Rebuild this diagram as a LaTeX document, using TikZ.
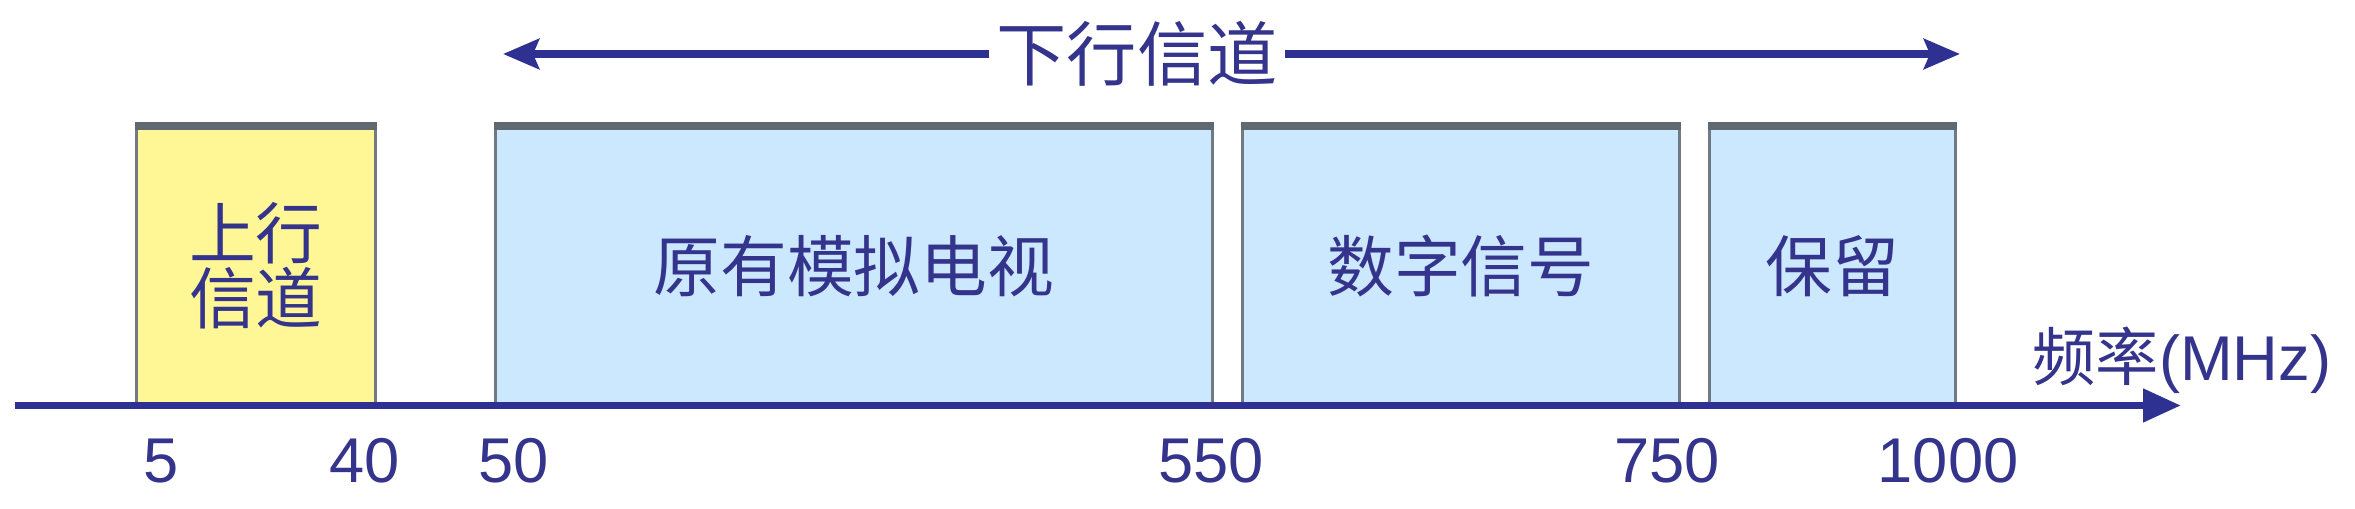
\documentclass[tikz,border=0pt]{standalone}
\usepackage{fontspec}
\setmainfont{Liberation Sans}
\newfontfamily\cjk{Noto Sans CJK SC}
\usetikzlibrary{positioning}
\usetikzlibrary{arrows.meta}
\definecolor{navy}{RGB}{46,49,146}
\definecolor{textblue}{RGB}{52,52,140}
\definecolor{bandyellow}{RGB}{255,246,150}
\definecolor{bandblue}{RGB}{204,232,255}
\definecolor{edgegray}{RGB}{112,122,132}
\definecolor{topgray}{RGB}{96,104,112}

\begin{document}
\begin{tikzpicture}[
  band/.style = {draw=edgegray, line width=0.8pt, anchor=south west, minimum height=2.765cm, inner sep=0pt, text=textblue, align=center, font=\cjk\fontsize{19}{24}\selectfont},
  topedge/.style = {topgray, line width=2.2pt},
  tick/.style = {text=textblue, font=\fontsize{18}{20}\selectfont},
  axisline/.style = {navy, line width=2.2pt, -{Triangle[length=0.38cm, width=0.32cm]}},
  rangeline/.style = {navy, line width=2.4pt, -{Stealth[length=0.36cm, width=0.3cm, inset=0.06cm]}}
]

\useasboundingbox (0, 0) rectangle (23.55, 5.09);

% frequency bands
\node [band, fill=bandyellow, minimum width=2.39cm, font=\cjk\fontsize{19}{18.5}\selectfont] (up) at (1.35, 1.035) {上行\\信道};
\node [band, fill=bandblue, minimum width=7.17cm] (analog) at (4.94, 1.035) {原有模拟电视};
\node [band, fill=bandblue, minimum width=4.37cm] (digital) at (12.41, 1.035) {数字信号};
\node [band, fill=bandblue, minimum width=2.46cm] (spare) at (17.08, 1.035) {保留};

\draw [topedge] (up.north west) -- (up.north east);
\draw [topedge] (analog.north west) -- (analog.north east);
\draw [topedge] (digital.north west) -- (digital.north east);
\draw [topedge] (spare.north west) -- (spare.north east);

% axis
\coordinate (axstart) at (0.15, 1.035);
\coordinate (axend) at (21.81, 1.035);
\draw [axisline] (axstart) -- (axend);
\node [tick] (freq) at (21.82, 1.49) {{\cjk 频率}(MHz)};

\node [tick] (t5) at (1.61, 0.48) {5};
\node [tick] (t40) at (3.65, 0.48) {40};
\node [tick] (t50) at (5.14, 0.48) {50};
\node [tick] (t550) at (12.11, 0.48) {550};
\node [tick] (t750) at (16.67, 0.48) {750};
\node [tick] (t1000) at (19.48, 0.48) {1000};

% downstream range
\node [tick, font=\cjk\fontsize{20}{24}\selectfont, inner sep=2pt] (down) at (11.37, 4.55) {下行信道};
\coordinate (dleft) at (5.03, 4.55);
\coordinate (dright) at (19.60, 4.55);
\draw [rangeline] (down.west) -- (dleft);
\draw [rangeline] (down.east) -- (dright);

\end{tikzpicture}
\end{document}
